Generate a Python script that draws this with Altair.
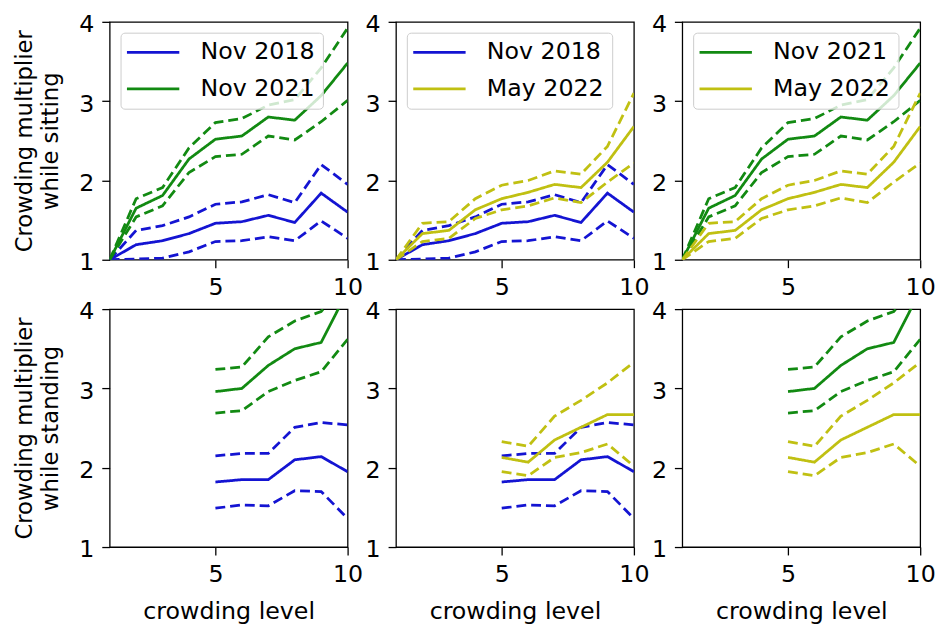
import altair as alt
import pandas as pd

# ---- data ----
x_sit = [1, 2, 3, 4, 5, 6, 7, 8, 9, 10]
x_std = [5, 6, 7, 8, 9, 10]

sit_2018_mean = [1.00, 1.19, 1.24, 1.33, 1.46, 1.48, 1.56, 1.47, 1.84, 1.60]
sit_2018_lo = [1.00, 1.01, 1.02, 1.10, 1.23, 1.24, 1.29, 1.24, 1.49, 1.27]
sit_2018_hi = [1.00, 1.37, 1.43, 1.54, 1.70, 1.73, 1.82, 1.72, 2.20, 1.95]

sit_2021_mean = [1.00, 1.65, 1.81, 2.27, 2.52, 2.56, 2.80, 2.76, 3.07, 3.48]
sit_2021_lo = [1.00, 1.54, 1.68, 2.10, 2.30, 2.33, 2.56, 2.51, 2.74, 3.01]
sit_2021_hi = [1.00, 1.77, 1.91, 2.41, 2.73, 2.78, 2.95, 3.02, 3.42, 3.92]

sit_2022_mean = [1.00, 1.33, 1.37, 1.63, 1.77, 1.85, 1.95, 1.91, 2.23, 2.68]
sit_2022_lo = [1.00, 1.23, 1.27, 1.52, 1.63, 1.68, 1.78, 1.72, 1.98, 2.22]
sit_2022_hi = [1.00, 1.46, 1.48, 1.77, 1.94, 2.00, 2.12, 2.08, 2.43, 3.10]

std_2018_mean = [1.82, 1.85, 1.85, 2.10, 2.14, 1.95]
std_2018_lo = [1.49, 1.53, 1.52, 1.71, 1.70, 1.36]
std_2018_hi = [2.15, 2.18, 2.18, 2.51, 2.57, 2.54]

std_2021_mean = [2.96, 3.00, 3.29, 3.50, 3.58, 4.23]
std_2021_lo = [2.69, 2.72, 2.96, 3.10, 3.21, 3.62]
std_2021_hi = [3.24, 3.27, 3.65, 3.85, 3.97, 4.35]

std_2022_mean = [2.13, 2.07, 2.35, 2.51, 2.67, 2.67]
std_2022_lo = [1.95, 1.90, 2.13, 2.19, 2.30, 2.02]
std_2022_hi = [2.33, 2.27, 2.65, 2.85, 3.07, 3.33]

series_data = {
    ("sitting", "Nov 2018"): (x_sit, sit_2018_mean, sit_2018_lo, sit_2018_hi),
    ("sitting", "Nov 2021"): (x_sit, sit_2021_mean, sit_2021_lo, sit_2021_hi),
    ("sitting", "May 2022"): (x_sit, sit_2022_mean, sit_2022_lo, sit_2022_hi),
    ("standing", "Nov 2018"): (x_std, std_2018_mean, std_2018_lo, std_2018_hi),
    ("standing", "Nov 2021"): (x_std, std_2021_mean, std_2021_lo, std_2021_hi),
    ("standing", "May 2022"): (x_std, std_2022_mean, std_2022_lo, std_2022_hi),
}

panel_series = [
    ["Nov 2018", "Nov 2021"],
    ["Nov 2018", "May 2022"],
    ["Nov 2021", "May 2022"],
]

COLORS = {"Nov 2018": "#1414d2", "Nov 2021": "#128a12", "May 2022": "#c0c012"}
FONT = "DejaVu Sans"
FS = 24
W = 241
H = 241
LW = 2.8


def series_df(posture, name):
    xs, mean, lo, hi = series_data[(posture, name)]
    rows = []
    for kind, vals in (("mean", mean), ("lo", lo), ("hi", hi)):
        for x, v in zip(xs, vals):
            rows.append({"x": x, "y": v, "series": name, "kind": kind})
    return pd.DataFrame(rows)


def make_panel(posture, names, top, first_col):
    color_scale = alt.Scale(domain=names, range=[COLORS[n] for n in names])
    if top:
        legend = alt.Legend(
            title=None,
            orient="top-left",
            offset=11,
            padding=8,
            fillColor="rgba(255,255,255,0.8)",
            strokeColor="#cccccc",
            cornerRadius=4,
            labelFontSize=FS,
            labelFont=FONT,
            labelColor="black",
            symbolType="M-2.6,0H2.6",
            symbolStrokeWidth=LW,
            symbolSize=416,
            symbolOffset=13,
            labelOffset=36,
            rowPadding=13,
            labelLimit=300,
        )
    else:
        legend = None
    ytitle = ["Crowding multiplier", "while " + posture] if first_col else None
    xtitle = None if top else "crowding level"
    layers = []
    for i, n in enumerate(names):
        c = alt.Chart(series_df(posture, n)).mark_line(clip=True, strokeWidth=LW).encode(
            x=alt.X("x:Q", scale=alt.Scale(domain=[1, 10], nice=False, zero=False),
                    axis=alt.Axis(values=[5, 10], title=xtitle, labelFlush=False)),
            y=alt.Y("y:Q", scale=alt.Scale(domain=[1, 4], nice=False, zero=False),
                    axis=alt.Axis(values=[1, 2, 3, 4], title=ytitle, format="d",
                                  labelOffset=3)),
            color=alt.Color("series:N", scale=color_scale, legend=legend if i == 0 else None,
                            sort=names),
            strokeDash=alt.StrokeDash(
                "kind:N",
                scale=alt.Scale(domain=["mean", "lo", "hi"], range=[[1, 0], [10, 5], [10, 5]]),
                legend=None,
            ),
        )
        layers.append(c)
    return alt.layer(*layers).properties(width=W, height=H)


panels = []
for posture, top in (("sitting", True), ("standing", False)):
    for j, names in enumerate(panel_series):
        panels.append(make_panel(posture, names, top, j == 0))

chart = (
    alt.concat(*panels, columns=3, spacing={"row": 50, "column": 49}, bounds="flush")
    .resolve_scale(color="independent", strokeDash="independent")
    .properties(padding={"left": 5, "top": 0, "right": 0, "bottom": 0})
    .configure_view(stroke="black", strokeWidth=1.3)
    .configure_axis(
        labelFont=FONT,
        titleFont=FONT,
        labelFontSize=FS,
        titleFontSize=FS,
        titleFontWeight="normal",
        labelColor="black",
        titleColor="black",
        tickColor="black",
        tickWidth=1.3,
        tickSize=8,
        labelPadding=8,
        domain=False,
        grid=False,
    )
    .configure_axisY(titleFontSize=23, titleLineHeight=26, titlePadding=17)
    .configure_axisX(titlePadding=13)
)

chart.save("out.html", embed_options={"renderer": "svg", "actions": False})
